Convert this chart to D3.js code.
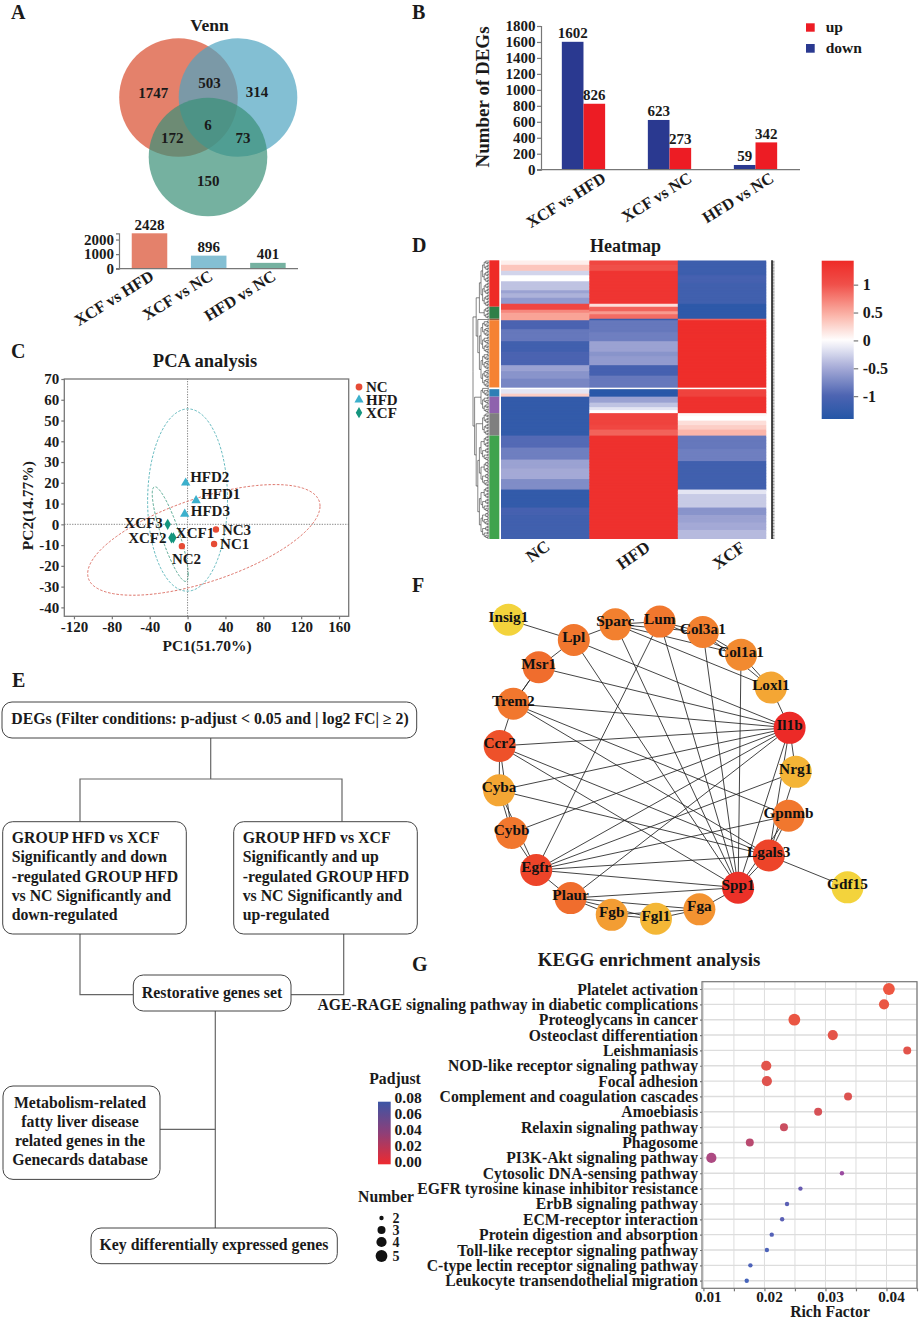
<!DOCTYPE html>
<html><head><meta charset="utf-8">
<script src="https://cdnjs.cloudflare.com/ajax/libs/d3/7.8.5/d3.min.js"></script>
<style>
html,body{margin:0;padding:0;background:#fff}
svg{display:block}
text{font-family:"Liberation Serif",serif;font-weight:bold;fill:#1a1a1a}
</style></head><body><svg id="c" width="920" height="1320" viewBox="0 0 920 1320"></svg>
<script>
// ---------- Panel A ----------
const vennSets=["XCF vs HFD","XCF vs NC","HFD vs NC"];
const vennRegionLabels=["1747","503","314","172","6","73","150"];
const vennTotals=[2428,896,401];
const vennTotalTicks=[0,1000,2000];
// ---------- Panel B ----------
const degCategories=["XCF vs HFD","XCF vs NC","HFD vs NC"];
const degDown=[1602,623,59];
const degUp=[826,273,342];
const degTicks=[0,200,400,600,800,1000,1200,1400,1600,1800];
// ---------- Panel C ----------
const pcaNames=["NC1","NC2","NC3","HFD1","HFD2","HFD3","XCF1","XCF2","XCF3"];
const pcaGroup=["NC","NC","NC","HFD","HFD","HFD","XCF","XCF","XCF"];
const pcaPC1=[28,-6,30,9,-2,-3,-15,-17,-21];
const pcaPC2=[-9.5,-10.5,-2.5,11.5,20,5,-6.5,-6.5,0];
const pcaGroups=["NC","HFD","XCF"];
// ellipse parameters per group: centre, spread, correlation
const pcaEllCx=[17.2,0,-18.3];
const pcaEllCy=[-7.5,11.7,-4.7];
const pcaEllSx=[122.7,42.2,19];
const pcaEllSy=[26.65,43.9,22.8];
const pcaEllR=[0.611,0.01,-0.85];
// ---------- Panel D: value, number of rows ----------
const heatCols=["NC","HFD","XCF"];
const heatNC=[[.1,3],[.35,4],[-.25,3],[0,4],[-.35,6],[-.55,2],[-.45,3],[-.6,4],[1.1,4],[.7,2],[.55,5],[-1,6],[-.85,8],[-1.1,7],[-1,9],[-.55,4],[-.65,5],[-.75,6],[0,1],[-.15,3],[.3,2],[-1.25,26],[-.95,8],[-.8,8],[-.55,6],[-.5,7],[-.7,7],[-1.25,12],[-1.05,5],[-1.1,16]];
const heatHFD=[[1.1,3],[1,4],[1.3,22],[.2,2],[.9,3],[.6,2],[.85,3],[-1.2,1],[-.85,8],[-.8,6],[-.55,7],[-.65,3],[-.6,6],[-1.05,7],[-.85,8],[0,1],[-1.35,5],[-.55,4],[-.35,3],[-.15,2],[0,2],[1.15,8],[1.1,3],[.9,4],[1.35,69]];
const heatXCF=[[-1.15,10],[-1.05,5],[-1.1,14],[-1.3,10],[.9,1],[1.38,45],[0,1],[1.15,5],[1.35,11],[.05,2],[0,3],[.2,3],[.3,3],[.45,4],[-.85,9],[-.8,8],[-1.1,19],[-.15,3],[-.3,9],[-.65,5],[-.55,5],[-.5,5],[-.4,6]];
const heatClusterRows=[31,8,1,45,1,5,11,15,69];
const heatClusterColors=["#EE2A27","#2E7F47","#9C5A3C","#F58233","#ffffff","#2E7FB5","#8E62AD","#7F7F7F","#3FA34D"];
const heatLegendTicks=[-1,-.5,0,.5,1];
// ---------- Panel E ----------
const flowTop=["DEGs (Filter conditions: p-adjust < 0.05 and | log2 FC| ≥ 2)"];
const flowLeft=["GROUP HFD vs XCF","Significantly and down","-regulated GROUP HFD","vs NC Significantly and","down-regulated"];
const flowRight=["GROUP HFD vs XCF","Significantly and up","-regulated GROUP HFD","vs NC Significantly and","up-regulated"];
const flowMid=["Restorative genes set"];
const flowDb=["Metabolism-related","fatty liver disease","related genes in the","Genecards database"];
const flowKey=["Key differentially expressed genes"];
// ---------- Panel F ----------
const ringGenes=["Lum","Col3a1","Col1a1","Loxl1","Il1b","Nrg1","Gpnmb","Lgals3","Spp1","Fga","Fgl1","Fgb","Plaur","Egfr","Cybb","Cyba","Ccr2","Trem2","Msr1","Lpl","Sparc"];
const ringScores=[5,4.5,4,2.5,10,1.8,5,8,9.5,3.5,1.6,3,5.5,8,5,2.5,7,5,5.5,5,4.5];
const pendantGenes=["Insig1","Gdf15"];
const pendantScores=[0,0];
const pendantAngle=[227.4,30.3];
const pendantRadius=[1.371,1.561];
const edgeFrom=["Insig1","Lpl","Msr1","Sparc","Sparc","Sparc","Sparc","Lum","Lum","Col3a1","Col3a1","Col1a1","Loxl1","Lpl","Msr1","Trem2","Ccr2","Cyba","Cybb","Egfr","Plaur","Il1b","Il1b","Il1b","Col1a1","Col3a1","Lum","Sparc","Lpl","Lum","Trem2","Trem2","Ccr2","Ccr2","Cyba","Msr1","Trem2","Trem2","Ccr2","Ccr2","Cyba","Cybb","Cyba","Egfr","Nrg1","Gpnmb","Lgals3","Spp1","Plaur","Plaur","Plaur","Plaur","Fgb","Fgb","Fgl1","Fga","Gpnmb","Gpnmb","Lgals3","Lgals3","Nrg1"];
const edgeTo=["Lpl","Sparc","Lpl","Lum","Col3a1","Col1a1","Loxl1","Col3a1","Col1a1","Col1a1","Loxl1","Loxl1","Il1b","Il1b","Il1b","Il1b","Il1b","Il1b","Il1b","Il1b","Il1b","Spp1","Lgals3","Nrg1","Spp1","Spp1","Spp1","Spp1","Spp1","Egfr","Lgals3","Gpnmb","Lgals3","Spp1","Lgals3","Trem2","Msr1","Ccr2","Cyba","Cybb","Cybb","Egfr","Egfr","Plaur","Egfr","Egfr","Egfr","Egfr","Spp1","Fgb","Fgl1","Fga","Fgl1","Fga","Fga","Spp1","Lgals3","Spp1","Spp1","Gdf15","Lgals3"];
// ---------- Panel G ----------
const keggPathways=["Platelet activation","AGE-RAGE signaling pathway in diabetic complications","Proteoglycans in cancer","Osteoclast differentiation","Leishmaniasis","NOD-like receptor signaling pathway","Focal adhesion","Complement and coagulation cascades","Amoebiasis","Relaxin signaling pathway","Phagosome","PI3K-Akt signaling pathway","Cytosolic DNA-sensing pathway","EGFR tyrosine kinase inhibitor resistance","ErbB signaling pathway","ECM-receptor interaction","Protein digestion and absorption","Toll-like receptor signaling pathway","C-type lectin receptor signaling pathway","Leukocyte transendothelial migration"];
const keggRich=[.0404,.0396,.0249,.0312,.0434,.0203,.0204,.0337,.0288,.0232,.0176,.0113,.0327,.0259,.0237,.0229,.0212,.0204,.0177,.0171];
const keggPadj=[.006,.007,.007,.009,.01,.01,.011,.012,.014,.018,.024,.034,.05,.066,.07,.07,.072,.074,.074,.076];
const keggNumber=[5,4,5,4,3,4,4,3,3,3,3,4,2,2,2,2,2,2,2,2];
const keggTicks=[.01,.015,.02,.025,.03,.035,.04,.045];
const padjTicks=[0,.02,.04,.06,.08];
const numberLegend=[2,3,4,5];

const svg=d3.select("#c");
const AX="#777";
function txt(g,x,y,s,size,anchor,extra){
  const t=g.append("text").attr("x",x).attr("y",y).attr("font-size",size).attr("text-anchor",anchor||"start").text(s);
  if(extra) t.attr("transform",extra);
  return t;
}
function styleAxis(g,fs){
  g.selectAll("path,line").attr("stroke",AX).attr("stroke-width",1.2);
  g.selectAll("text").attr("font-size",fs).attr("font-family",'"Liberation Serif",serif').attr("font-weight","bold").attr("fill","#1a1a1a");
  g.attr("font-family",null).attr("font-size",null);
  return g;
}
// panel letters
[["A",11,18.5],["B",412,18.5],["C",11,358],["D",412,252],["E",12,687],["F",412,592],["G",412,971]].forEach(d=>txt(svg,d[1],d[2],d[0],20));

// ===== A: Venn =====
{
  const g=svg.append("g");
  txt(g,209.5,31,"Venn",17.5,"middle");
  const cCol=["#D84B2C","#4FA4C0","#3A9077"];
  const cx=d3.scaleOrdinal().domain(vennSets).range([178.5,238,208]);
  const cy=d3.scaleOrdinal().domain(vennSets).range([97.5,97.5,157]);
  g.selectAll("circle").data(vennSets).join("circle")
    .attr("cx",d=>cx(d)).attr("cy",d=>cy(d)).attr("r",59.3)
    .attr("fill",(d,i)=>cCol[i]).attr("fill-opacity",.7);
  const lx=[153.3,209.5,257,172.3,208,243,208.3], ly=[98.3,87.7,97,143,130.3,143,186.3];
  g.selectAll("text.r").data(vennRegionLabels).join("text").attr("class","r")
    .attr("x",(d,i)=>lx[i]).attr("y",(d,i)=>ly[i]).attr("text-anchor","middle").attr("font-size",15).text(d=>d);
  // totals
  const x=d3.scaleBand().domain(vennSets).range([119.9,297.5]).paddingInner(.4).paddingOuter(.2);
  const y=d3.scaleLinear().domain([0,2428]).range([268.7,233.3]);
  const barCol=["#E4816B","#84BFD3","#75B1A0"];
  g.selectAll("rect").data(vennTotals).join("rect")
    .attr("x",(d,i)=>x(vennSets[i])).attr("width",x.bandwidth())
    .attr("y",d=>y(d)).attr("height",d=>y(0)-y(d)).attr("fill",(d,i)=>barCol[i]);
  g.selectAll("text.v").data(vennTotals).join("text").attr("class","v")
    .attr("x",(d,i)=>x(vennSets[i])+x.bandwidth()/2).attr("y",d=>y(d)-3.5)
    .attr("text-anchor","middle").attr("font-size",15).text(d=>d);
  const ax=g.append("g").attr("transform","translate(119,0)")
    .call(d3.axisLeft(y).tickValues(vennTotalTicks).tickSize(3).tickPadding(2).tickFormat(d3.format("d")));
  styleAxis(ax,15);
  g.append("line").attr("x1",116).attr("x2",298).attr("y1",y(0)).attr("y2",y(0)).attr("stroke",AX).attr("stroke-width",1.2);
  const ends=[155,214,277];
  vennSets.forEach((s,i)=>txt(g,ends[i],279,s,16.3,"end",`rotate(-32 ${ends[i]} 279)`));
}

// ===== B =====
{
  const g=svg.append("g");
  const x=d3.scaleBand().domain(degCategories).range([540.5,798.5]).paddingInner(.4965).paddingOuter(.248);
  const x1=d3.scaleBand().domain(["down","up"]).range([0,x.bandwidth()]);
  const y=d3.scaleLinear().domain([0,1800]).range([169.7,26]);
  const series=[["down",degDown,"#2A3990"],["up",degUp,"#ED1C24"]];
  series.forEach(([k,vals,col])=>{
    g.selectAll("rect."+k).data(vals).join("rect").attr("class",k)
      .attr("x",(d,i)=>x(degCategories[i])+x1(k)).attr("width",x1.bandwidth())
      .attr("y",d=>y(d)).attr("height",d=>y(0)-y(d)).attr("fill",col);
    g.selectAll("text."+k).data(vals).join("text").attr("class",k)
      .attr("x",(d,i)=>x(degCategories[i])+x1(k)+x1.bandwidth()/2).attr("y",d=>y(d)-3.5)
      .attr("text-anchor","middle").attr("font-size",15).text(d=>d);
  });
  const ax=g.append("g").attr("transform","translate(541,0)")
    .call(d3.axisLeft(y).tickValues(degTicks).tickSize(4).tickPadding(1.5).tickFormat(d3.format("d")));
  styleAxis(ax,15);
  g.append("line").attr("x1",537).attr("x2",800).attr("y1",y(0)).attr("y2",y(0)).attr("stroke",AX).attr("stroke-width",1.2);
  const ends=[607,693,775];
  degCategories.forEach((s,i)=>txt(g,ends[i],181,s,16.3,"end",`rotate(-32 ${ends[i]} 181)`));
  txt(g,489,97,"Number of DEGs",19,"middle","rotate(-90 489 97)");
  g.append("rect").attr("x",806).attr("y",23.3).attr("width",8.7).attr("height",8.4).attr("fill","#ED1C24");
  g.append("rect").attr("x",806).attr("y",44).attr("width",8.7).attr("height",8.7).attr("fill","#2A3990");
  txt(g,825.7,32,"up",15.5); txt(g,825.7,52.5,"down",15.5);
}

// ===== C: PCA =====
{
  const g=svg.append("g");
  txt(g,205,367,"PCA analysis",18.5,"middle");
  const x=d3.scaleLinear().domain([-130.2,170.2]).range([64.3,348.7]);
  const y=d3.scaleLinear().domain([-44.3,70]).range([616.3,379]);
  const col=d3.scaleOrdinal().domain(pcaGroups).range(["#E64B35","#3CB0CC","#14957E"]);
  const ellCol=["#D9655A","#4FB0B5","#3C9A80"];
  const sym=d3.scaleOrdinal().domain(pcaGroups).range([d3.symbolCircle,d3.symbolTriangle,d3.symbolDiamond]);
  g.append("rect").attr("x",64.3).attr("y",379).attr("width",284.4).attr("height",237.3).attr("fill","none").attr("stroke",AX).attr("stroke-width",1.3);
  g.append("line").attr("x1",x.range()[0]).attr("x2",x.range()[1]).attr("y1",y(0)).attr("y2",y(0)).attr("stroke","#666").attr("stroke-width",.8).attr("stroke-dasharray","1.3 1.3");
  g.append("line").attr("y1",y.range()[0]).attr("y2",y.range()[1]).attr("x1",x(0)).attr("x2",x(0)).attr("stroke","#666").attr("stroke-width",.8).attr("stroke-dasharray","1.3 1.3");
  const ts=d3.range(0,Math.PI*2+.02,.02);
  pcaGroups.forEach((gr,i)=>{
    const line=d3.line().x(t=>x(pcaEllCx[i]+pcaEllSx[i]*Math.cos(t)))
      .y(t=>y(pcaEllCy[i]+pcaEllR[i]*pcaEllSy[i]*Math.cos(t)+pcaEllSy[i]*Math.sqrt(1-pcaEllR[i]*pcaEllR[i])*Math.sin(t)));
    g.append("path").attr("d",line(ts)).attr("fill","none").attr("stroke",ellCol[i]).attr("stroke-width",.9).attr("stroke-dasharray","2.6 1.6");
  });
  g.selectAll("path.p").data(pcaNames).join("path").attr("class","p")
    .attr("transform",(d,i)=>`translate(${x(pcaPC1[i])},${y(pcaPC2[i])})`)
    .attr("d",(d,i)=>d3.symbol().type(sym(pcaGroup[i])).size(pcaGroup[i]==="HFD"?38:pcaGroup[i]==="XCF"?36:32)())
    .attr("fill",(d,i)=>col(pcaGroup[i]));
  const lblDx={NC1:6,NC2:-10,NC3:6,HFD1:5,HFD2:4.5,HFD3:6,XCF1:2.5,XCF2:-5,XCF3:-5}, lblDy={NC1:4.5,NC2:17.5,NC3:5,HFD1:-1,HFD2:-1,HFD3:2.5,XCF1:0,XCF2:4.7,XCF3:3.5};
  const lblEnd={XCF2:1,XCF3:1};
  g.selectAll("text.l").data(pcaNames).join("text").attr("class","l")
    .attr("x",(d,i)=>x(pcaPC1[i])+lblDx[d]).attr("y",(d,i)=>y(pcaPC2[i])+lblDy[d])
    .attr("text-anchor",d=>lblEnd[d]?"end":"start").attr("font-size",15).text(d=>d);
  const ax=g.append("g").attr("transform","translate(64.3,0)").call(d3.axisLeft(y).tickValues(d3.range(-40,71,10)).tickSize(3).tickPadding(2));
  styleAxis(ax,15); ax.select(".domain").remove();
  const bx=g.append("g").attr("transform","translate(0,616.3)").call(d3.axisBottom(x).tickValues(d3.range(-120,161,40)).tickSize(3).tickPadding(2));
  styleAxis(bx,15); bx.select(".domain").remove();
  txt(g,207,651,"PC1(51.70%)",15.5,"middle");
  txt(g,33,505.6,"PC2(14.77%)",15.5,"middle","rotate(-90 33 505.6)");
  const ly=d3.scalePoint().domain(pcaGroups).range([387,412.7]);
  pcaGroups.forEach(gr=>{
    g.append("path").attr("transform",`translate(359,${ly(gr)})`).attr("d",d3.symbol().type(sym(gr)).size(36)()).attr("fill",col(gr));
    txt(g,366,ly(gr)+5,gr,15);
  });
}

// ===== D: Heatmap =====
{
  const g=svg.append("g");
  txt(g,625.5,252,"Heatmap",18,"middle");
  const expand=a=>a.flatMap(([v,n])=>d3.range(n).map(()=>v));
  const cols=[expand(heatNC),expand(heatHFD),expand(heatXCF)];
  const nRows=cols[0].length;
  const rows=d3.range(nRows);
  const x=d3.scaleBand().domain(heatCols).range([501,766.3]);
  const y=d3.scaleBand().domain(rows).range([260.3,539]);
  const color=d3.scaleLinear().domain([-1.41,-1,-.5,0,.5,1,1.43]).range(["#2456A6","#4B63B1","#A4A9D6","#ffffff","#FAADA0","#F0504A","#EE2A27"]);
  const defs=svg.append("defs");
  defs.append("clipPath").attr("id","hmc").append("rect").attr("x",501).attr("y",260.3).attr("width",265.3).attr("height",278.7);
  const hg=g.append("g").attr("clip-path","url(#hmc)");
  heatCols.forEach((c,ci)=>{
    hg.append("g").selectAll("rect").data(cols[ci]).join("rect")
      .attr("x",x(c)).attr("width",x.bandwidth()+.4)
      .attr("y",(d,i)=>y(i)).attr("height",y.bandwidth()+1)
      .attr("fill",d=>color(d));
  });
  // side cluster bar
  let start=0; const spans=heatClusterRows.map((n,i)=>{const s={s:start,n,c:heatClusterColors[i]};start+=n;return s;});
  g.append("g").selectAll("rect").data(spans).join("rect")
    .attr("x",489.3).attr("width",10).attr("y",d=>y(d.s)).attr("height",d=>d.n*y.step()).attr("fill",d=>d.c);
  // dendrogram
  const bisect=(a,b)=> b-a<=1?{r:a}:{children:[bisect(a,a+Math.floor((b-a)/2)),bisect(a+Math.floor((b-a)/2),b)]};
  const leaf=spans.map(s=>bisect(s.s,s.s+s.n));
  const tree={children:[{children:[{children:[leaf[0],leaf[1]]},{children:[leaf[2],leaf[3]]}]},{children:[{children:[{children:[leaf[4],leaf[5]]},leaf[6]]},{children:[leaf[7],leaf[8]]}]}]};
  const root=d3.hierarchy(tree);
  d3.cluster().size([y.range()[1]-y.range()[0],16]).separation(()=>1)(root);
  g.append("g").selectAll("path").data(root.links()).join("path")
    .attr("d",l=>`M${473+l.source.y},${260.3+l.source.x}V${260.3+l.target.x}H${473+l.target.y}`)
    .attr("fill","none").attr("stroke","#222").attr("stroke-width",.55);
  // row name ticks
  g.append("line").attr("x1",772).attr("x2",772).attr("y1",260.3).attr("y2",539).attr("stroke","#111").attr("stroke-width",1.5);
  g.append("g").selectAll("line").data(rows).join("line")
    .attr("x1",772).attr("x2",774.5).attr("y1",d=>y(d)+1).attr("y2",d=>y(d)+1).attr("stroke","#222").attr("stroke-width",.5);
  const lx=d3.scalePoint().domain(heatCols).range([541,732]);
  heatCols.forEach((c,i)=>{ const yy=i===0?556:560;
    txt(g,lx(c),yy,c,17,"middle",`rotate(-35 ${lx(c)} ${yy})`);});
  // legend
  const ly=d3.scaleLinear().domain([-1.41,1.43]).range([419,260.7]);
  const gr=defs.append("linearGradient").attr("id","hm").attr("x1",0).attr("x2",0).attr("y1",1).attr("y2",0);
  d3.range(0,1.001,.05).forEach(t=>gr.append("stop").attr("offset",t).attr("stop-color",color(-1.41+t*2.84)));
  g.append("rect").attr("x",821.7).attr("y",260.7).attr("width",32).attr("height",158.3).attr("fill","url(#hm)");
  const ax=g.append("g").attr("transform","translate(853.7,0)").call(d3.axisRight(ly).tickValues(heatLegendTicks).tickSize(4.5).tickPadding(4.5).tickFormat(d=>String(d)));
  styleAxis(ax,16); ax.select(".domain").remove();
}

// ===== E: Flowchart =====
{
  const g=svg.append("g");
  const L="#666";
  const seg=pts=>g.append("path").attr("d",d3.line()(pts)).attr("fill","none").attr("stroke",L).attr("stroke-width",1.2);
  seg([[210.7,738],[210.7,779]]);
  seg([[80,821.7],[80,779],[342,779],[342,821.7]]);
  seg([[80,934],[80,994.6],[133.3,994.6]]);
  seg([[343.7,934],[343.7,994.6],[291,994.6]]);
  seg([[215.3,1011],[215.3,1228]]);
  seg([[160,1129.3],[215.3,1129.3]]);
  const box=(x0,x1,y0,y1)=>g.append("rect").attr("x",x0).attr("y",y0).attr("width",x1-x0).attr("height",y1-y0).attr("rx",10).attr("fill","#fff").attr("stroke","#444").attr("stroke-width",1);
  const lines=(arr,x,y,dy,anchor,fs)=>arr.forEach((s,i)=>txt(g,x,y+i*dy,s,fs,anchor));
  box(2,416.7,702,738); lines(flowTop,11.3,724,0,"start",15.8);
  box(2.7,186.3,821.7,934); lines(flowLeft,11.7,843,19.3,"start",15.8);
  box(233.7,417.3,821.7,934); lines(flowRight,242.7,843,19.3,"start",15.8);
  box(133.3,291,975,1011); lines(flowMid,212,997.5,0,"middle",15.8);
  box(3,160,1086,1179.4); lines(flowDb,80,1107.5,19.3,"middle",15.8);
  box(91,337.3,1228,1263.7); lines(flowKey,214,1250,0,"middle",15.8);
}

// ===== F: Network =====
{
  const g=svg.append("g");
  const angle=d3.scaleLinear().domain([0,ringGenes.length]).range([-85,275]);
  const R=d3.scaleLinear().domain([0,1]).range([0,149]);
  const colr=d3.scaleLinear().domain([0,2,4.5,7,10]).range(["#F3D33C","#F4B035","#F2802F","#EE512A","#EC2A27"]);
  const nodes=[];
  ringGenes.forEach((n,i)=>nodes.push({id:n,a:angle(i),r:1,s:ringScores[i]}));
  pendantGenes.forEach((n,i)=>nodes.push({id:n,a:pendantAngle[i],r:pendantRadius[i],s:pendantScores[i]}));
  const px=n=>646.7+R(n.r)*Math.cos(n.a*Math.PI/180), py=n=>770+R(n.r)*Math.sin(n.a*Math.PI/180);
  const byId=new Map(nodes.map(n=>[n.id,n]));
  g.append("g").selectAll("line").data(edgeFrom).join("line")
    .attr("x1",d=>px(byId.get(d))).attr("y1",d=>py(byId.get(d)))
    .attr("x2",(d,i)=>px(byId.get(edgeTo[i]))).attr("y2",(d,i)=>py(byId.get(edgeTo[i])))
    .attr("stroke","#222").attr("stroke-width",.85);
  g.append("g").selectAll("circle").data(nodes).join("circle")
    .attr("cx",px).attr("cy",py).attr("r",16).attr("fill",d=>colr(d.s));
  g.append("g").selectAll("text").data(nodes).join("text")
    .attr("x",px).attr("y",d=>py(d)+2).attr("text-anchor","middle").attr("font-size",15.3).style("fill","#111").text(d=>d.id);
}

// ===== G: KEGG =====
{
  const g=svg.append("g");
  txt(g,649,966,"KEGG enrichment analysis",18.9,"middle");
  const x=d3.scaleLinear().domain([.00977,.045]).range([702,917]);
  const y=d3.scalePoint().domain(keggPathways).range([989,1280.7]);
  g.append("g").selectAll("line").data(keggPathways).join("line")
    .attr("x1",702).attr("x2",917).attr("y1",d=>y(d)).attr("y2",d=>y(d)).attr("stroke","#DDD").attr("stroke-width",1.4);
  g.append("g").selectAll("line").data(keggTicks).join("line")
    .attr("y1",981.7).attr("y2",1288.3).attr("x1",d=>x(d)).attr("x2",d=>x(d)).attr("stroke","#DDD").attr("stroke-width",1);
  g.append("rect").attr("x",702).attr("y",981.7).attr("width",215).attr("height",306.6).attr("fill","none").attr("stroke",AX).attr("stroke-width",1.2);
  const col=d3.scaleLinear().domain([0,.04,.08]).range(["#EE2A2F","#8E3F78","#3C55A5"]);
  const dotCol=d3.scaleLinear().domain([.005,.024,.05,.07]).range(["#F0573E","#B94A70","#9A4AA0","#5A5FB5"]);
  const rr=d3.scaleLinear().domain([2,3,4,5]).range([2.2,4,5.1,5.9]);
  g.append("g").selectAll("circle").data(keggPathways).join("circle")
    .attr("cx",(d,i)=>x(keggRich[i])).attr("cy",d=>y(d)).attr("r",(d,i)=>rr(keggNumber[i])).attr("fill",(d,i)=>dotCol(keggPadj[i]));
  const ax=g.append("g").attr("transform","translate(702,0)").call(d3.axisLeft(y).tickSize(2).tickPadding(2));
  styleAxis(ax,15.7); ax.select(".domain").remove();
  const bx=g.append("g").attr("transform","translate(0,1288.3)").call(d3.axisBottom(x).tickValues(keggTicks).tickSize(3).tickPadding(2).tickFormat(d=>Math.abs(d*100-Math.round(d*100))<1e-6&&d<.045?d3.format(".2f")(d):""));
  styleAxis(bx,15.2); bx.select(".domain").remove();
  bx.selectAll("text").attr("dx",4.5).attr("y",2.5);
  txt(g,830,1316.5,"Rich Factor",15.7,"middle");
  // padj legend
  txt(g,395,1084,"Padjust",15.7,"middle");
  const ly=d3.scaleLinear().domain([0,.08]).range([1162,1098]);
  const defs=svg.append("defs");
  const gr=defs.append("linearGradient").attr("id","pj").attr("x1",0).attr("x2",0).attr("y1",1).attr("y2",0);
  d3.range(0,1.001,.1).forEach(t=>gr.append("stop").attr("offset",t).attr("stop-color",col(t*.08)));
  g.append("rect").attr("x",378).attr("y",1101.7).attr("width",12.7).attr("height",62.6).attr("fill","url(#pj)");
  g.append("g").selectAll("text").data(padjTicks).join("text")
    .attr("x",394.5).attr("y",d=>ly(d)+5).attr("font-size",15.5).text(d=>d3.format(".2f")(d));
  // number legend
  txt(g,386,1202,"Number",15.7,"middle");
  const ny=d3.scaleOrdinal().domain(numberLegend).range([1218,1230,1242,1256]);
  g.append("g").selectAll("circle").data(numberLegend).join("circle")
    .attr("cx",381.5).attr("cy",d=>ny(d)).attr("r",d=>rr(d)).attr("fill","#111");
  g.append("g").selectAll("text").data(numberLegend).join("text")
    .attr("x",392.5).attr("y",d=>ny(d)+5).attr("font-size",14).text(d=>d);
}
// hyphen-minus tick labels
svg.selectAll("text").each(function(){const s=this.textContent; if(s.includes("−")) this.textContent=s.replace("−","-");});
</script></body></html>
